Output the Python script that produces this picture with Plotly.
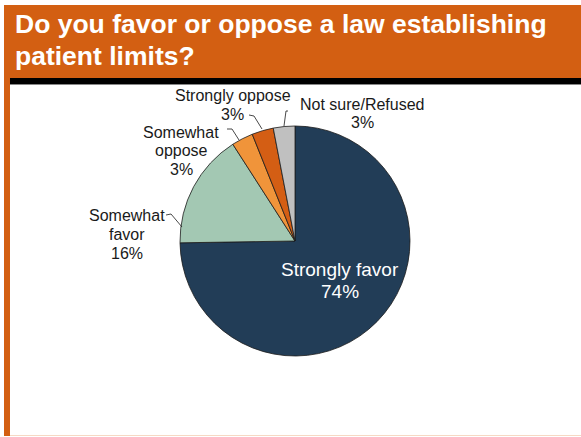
import plotly.graph_objects as go

# ---- data ----
categories = ["Strongly favor", "Somewhat favor", "Somewhat oppose", "Strongly oppose", "Not sure/Refused"]
label_lines = [["Strongly favor"], ["Somewhat", "favor"], ["Somewhat", "oppose"], ["Strongly oppose"], ["Not sure/Refused"]]
values = [74, 16, 3, 3, 3]
colors = ["#223D57", "#A3C8B3", "#F0943A", "#D45E14", "#C0C0C0"]
title_lines = ["Do you favor or oppose a law establishing", "patient limits?"]

W, H = 581, 437
FONT = "Liberation Sans, Arial, sans-serif"

# pie geometry (pixels)
cx, cy, r = 295, 241, 115

fig = go.Figure()
fig.add_trace(go.Pie(
    labels=categories, values=values, sort=False, direction="clockwise", rotation=0,
    marker=dict(colors=colors, line=dict(color="#1c1c1c", width=0.8)),
    textinfo="none", hoverinfo="label+percent", showlegend=False,
    domain=dict(x=[(cx - r) / W, (cx + r) / W], y=[(H - cy - r) / H, (H - cy + r) / H]),
))

# label layout (pixels): centre x, first-line centre y, line step
label_pos = {
    "Strongly favor": (340, 269, 22),
    "Somewhat favor": (127, 216, 18.5),
    "Somewhat oppose": (181, 132, 18.5),
    "Strongly oppose": (232.5, 96, 19),
    "Not sure/Refused": (362, 104, 18),
}
leaders = {
    "Somewhat favor": [(166, 215), (171, 214), (182, 227)],
    "Somewhat oppose": [(227, 129), (232, 129), (239, 140)],
    "Strongly oppose": [(249, 115), (254, 116), (262, 129)],
    "Not sure/Refused": [(288, 111), (286, 111), (284, 126)],
}

annotations = []
for cat, lines, v in zip(categories, label_lines, values):
    x, y, step = label_pos[cat]
    inside = cat == "Strongly favor"
    for i, t in enumerate(lines + [f"{v}%"]):
        annotations.append(dict(
            x=x / W, y=1 - (y + i * step) / H, xref="paper", yref="paper",
            xanchor="center", yanchor="middle", text=t, showarrow=False,
            font=dict(family=FONT, size=19 if inside else 16, color="white" if inside else "#1a1a1a"),
        ))

for i, t in enumerate(title_lines):
    annotations.append(dict(
        x=13 / W, y=1 - (24 + i * 32.5) / H, xref="paper", yref="paper", xanchor="left", yanchor="middle",
        text=f"<b>{t}</b>", showarrow=False, align="left",
        font=dict(family=FONT, size=26.5, color="white"),
    ))

def px(x, y):
    return x / W, 1 - y / H

shapes = [
    # header
    dict(type="rect", xref="paper", yref="paper", x0=4 / W, x1=1, y0=1 - 78 / H, y1=1 - 5 / H,
         fillcolor="#D35F12", line_width=0, layer="below"),
    # left bar
    dict(type="rect", xref="paper", yref="paper", x0=4 / W, x1=10 / W, y0=1 - 436 / H, y1=1 - 78 / H,
         fillcolor="#D35F12", line_width=0, layer="below"),
    # black strip
    dict(type="rect", xref="paper", yref="paper", x0=10 / W, x1=1, y0=1 - 84 / H, y1=1 - 78 / H,
         fillcolor="#000000", line_width=0, layer="below"),
    dict(type="line", xref="paper", yref="paper", x0=10 / W, x1=1, y0=1 - 84.5 / H, y1=1 - 84.5 / H,
         line=dict(color="#888888", width=1), layer="below"),
    # bottom faint line
    dict(type="line", xref="paper", yref="paper", x0=10 / W, x1=1, y0=1 - 435.5 / H, y1=1 - 435.5 / H,
         line=dict(color="#F6D9C4", width=1), layer="below"),
]
for cat, pts in leaders.items():
    p = [px(*q) for q in pts]
    path = "M {} {} ".format(*p[0]) + " ".join("L {} {}".format(*q) for q in p[1:])
    shapes.append(dict(type="path", xref="paper", yref="paper", path=path,
                       line=dict(color="#1a1a1a", width=0.8)))

fig.update_layout(
    width=W, height=H, margin=dict(l=0, r=0, t=0, b=0),
    paper_bgcolor="white", plot_bgcolor="white",
    annotations=annotations, shapes=shapes,
)
fig.write_html("out.html", config={"displayModeBar": False},
               post_script="document.body.style.margin='0';document.body.style.overflow='hidden';")
